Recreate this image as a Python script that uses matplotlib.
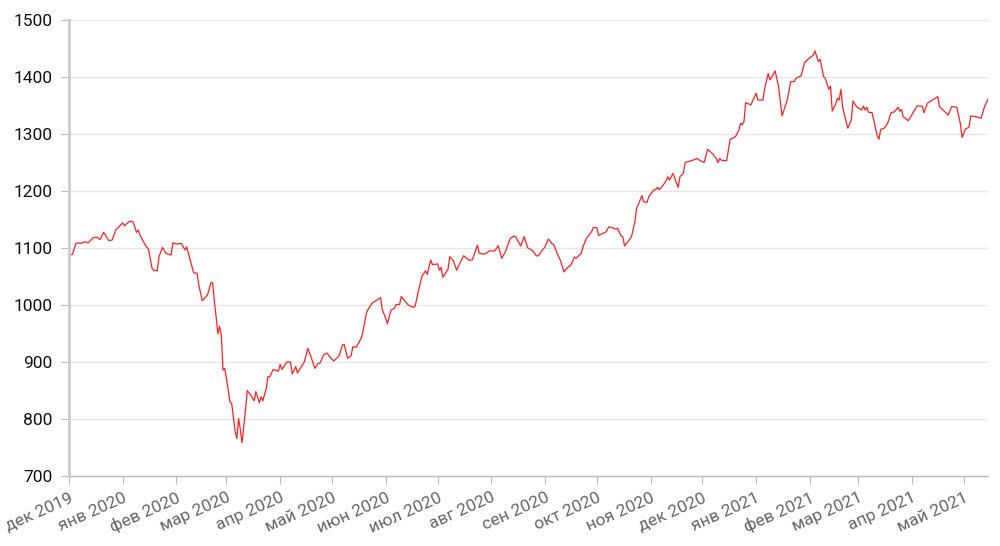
import matplotlib
matplotlib.use("Agg")
import matplotlib.pyplot as plt
import matplotlib.dates as mdates
import pandas as pd

# values
dates = [
    "2019-12-01", "2019-12-03", "2019-12-05", "2019-12-06", "2019-12-08", "2019-12-10",
    "2019-12-12", "2019-12-15", "2019-12-17", "2019-12-19", "2019-12-21", "2019-12-24",
    "2019-12-26", "2019-12-28", "2020-01-01", "2020-01-02", "2020-01-05", "2020-01-07",
    "2020-01-09", "2020-01-10", "2020-01-11", "2020-01-13", "2020-01-15", "2020-01-16",
    "2020-01-18", "2020-01-19", "2020-01-21", "2020-01-22", "2020-01-24", "2020-01-26",
    "2020-01-29", "2020-01-30", "2020-02-01", "2020-02-04", "2020-02-06", "2020-02-07",
    "2020-02-09", "2020-02-11", "2020-02-13", "2020-02-14", "2020-02-16", "2020-02-19",
    "2020-02-21", "2020-02-22", "2020-02-23", "2020-02-24", "2020-02-25", "2020-02-26",
    "2020-02-27", "2020-02-28", "2020-02-29", "2020-03-02", "2020-03-03", "2020-03-04",
    "2020-03-06", "2020-03-07", "2020-03-08", "2020-03-09", "2020-03-10", "2020-03-12",
    "2020-03-13", "2020-03-15", "2020-03-17", "2020-03-18", "2020-03-20", "2020-03-21",
    "2020-03-22", "2020-03-24", "2020-03-25", "2020-03-26", "2020-03-28", "2020-03-31",
    "2020-04-01", "2020-04-02", "2020-04-05", "2020-04-07", "2020-04-08", "2020-04-10",
    "2020-04-11", "2020-04-15", "2020-04-17", "2020-04-19", "2020-04-21", "2020-04-23",
    "2020-04-24", "2020-04-26", "2020-04-28", "2020-04-30", "2020-05-02", "2020-05-05",
    "2020-05-07", "2020-05-08", "2020-05-10", "2020-05-12", "2020-05-13", "2020-05-15",
    "2020-05-18", "2020-05-19", "2020-05-21", "2020-05-24", "2020-05-26", "2020-05-29",
    "2020-05-30", "2020-06-01", "2020-06-02", "2020-06-04", "2020-06-06", "2020-06-07",
    "2020-06-09", "2020-06-10", "2020-06-14", "2020-06-17", "2020-06-18", "2020-06-20",
    "2020-06-22", "2020-06-24", "2020-06-25", "2020-06-27", "2020-06-28", "2020-07-01",
    "2020-07-02", "2020-07-03", "2020-07-04", "2020-07-06", "2020-07-07", "2020-07-08",
    "2020-07-10", "2020-07-12", "2020-07-13", "2020-07-16", "2020-07-19", "2020-07-21",
    "2020-07-24", "2020-07-25", "2020-07-28", "2020-07-31", "2020-08-03", "2020-08-05",
    "2020-08-07", "2020-08-09", "2020-08-12", "2020-08-14", "2020-08-15", "2020-08-18",
    "2020-08-20", "2020-08-22", "2020-08-25", "2020-08-27", "2020-08-28", "2020-09-01",
    "2020-09-03", "2020-09-05", "2020-09-06", "2020-09-08", "2020-09-10", "2020-09-12",
    "2020-09-14", "2020-09-16", "2020-09-18", "2020-09-19", "2020-09-22", "2020-09-23",
    "2020-09-25", "2020-09-28", "2020-09-29", "2020-10-01", "2020-10-02", "2020-10-04",
    "2020-10-06", "2020-10-08", "2020-10-10", "2020-10-12", "2020-10-13", "2020-10-15",
    "2020-10-16", "2020-10-17", "2020-10-19", "2020-10-21", "2020-10-23", "2020-10-24",
    "2020-10-26", "2020-10-27", "2020-10-28", "2020-10-30", "2020-10-31", "2020-11-03",
    "2020-11-04", "2020-11-05", "2020-11-06", "2020-11-08", "2020-11-10", "2020-11-11",
    "2020-11-12", "2020-11-14", "2020-11-15", "2020-11-17", "2020-11-18", "2020-11-20",
    "2020-11-21", "2020-11-24", "2020-11-27", "2020-11-28", "2020-11-30", "2020-12-02",
    "2020-12-04", "2020-12-07", "2020-12-09", "2020-12-10", "2020-12-11", "2020-12-12",
    "2020-12-15", "2020-12-17", "2020-12-20", "2020-12-22", "2020-12-23", "2020-12-24",
    "2020-12-25", "2020-12-26", "2020-12-29", "2021-01-01", "2021-01-02", "2021-01-05",
    "2021-01-06", "2021-01-08", "2021-01-09", "2021-01-12", "2021-01-14", "2021-01-16",
    "2021-01-19", "2021-01-21", "2021-01-23", "2021-01-24", "2021-01-27", "2021-01-29",
    "2021-01-31", "2021-02-03", "2021-02-04", "2021-02-06", "2021-02-07", "2021-02-09",
    "2021-02-10", "2021-02-12", "2021-02-13", "2021-02-14", "2021-02-16", "2021-02-17",
    "2021-02-18", "2021-02-19", "2021-02-20", "2021-02-23", "2021-02-25", "2021-02-26",
    "2021-02-28", "2021-03-03", "2021-03-04", "2021-03-05", "2021-03-06", "2021-03-07",
    "2021-03-09", "2021-03-10", "2021-03-12", "2021-03-13", "2021-03-14", "2021-03-16",
    "2021-03-18", "2021-03-20", "2021-03-22", "2021-03-24", "2021-03-25", "2021-03-26",
    "2021-03-27", "2021-03-30", "2021-04-02", "2021-04-04", "2021-04-07", "2021-04-08",
    "2021-04-10", "2021-04-13", "2021-04-16", "2021-04-17", "2021-04-19", "2021-04-22",
    "2021-04-24", "2021-04-27", "2021-04-29", "2021-04-30", "2021-05-02", "2021-05-04",
    "2021-05-05", "2021-05-08", "2021-05-11", "2021-05-13", "2021-05-15",
]
values = [
    1088, 1089, 1108, 1109, 1108, 1111,
    1109, 1118, 1119, 1115, 1127.5, 1113,
    1114, 1131.6, 1144, 1139, 1147, 1146,
    1127.5, 1131.6, 1122.8, 1111, 1101, 1097.7,
    1064, 1061, 1060, 1084.7, 1101, 1090.7,
    1087.7, 1109, 1107, 1108, 1096.5, 1102,
    1079, 1056.7, 1055.6, 1035, 1007.6, 1017.5,
    1039, 1039, 1006, 979.5, 950, 963,
    947, 886, 889, 851, 830, 827.5,
    778, 766, 801, 781, 758.5, 816,
    850, 842, 832, 848, 828.6, 839,
    832, 853.8, 875, 874, 887, 884,
    896, 887, 900.5, 900, 879, 892,
    881, 900.5, 924, 908, 889, 898,
    898, 912, 916, 908, 902, 910.5,
    930, 931, 906.5, 911, 927, 926,
    943, 956, 988, 1003, 1007, 1013,
    992, 977, 967, 991, 994, 1001,
    1001, 1015, 1000, 996, 998, 1026,
    1051, 1060, 1054, 1079, 1071, 1072,
    1061, 1066, 1049, 1058, 1063, 1085,
    1078, 1061, 1068, 1086.5, 1079, 1079,
    1105, 1091, 1089, 1095, 1095, 1104,
    1082, 1092.5, 1117, 1121, 1120, 1103.5,
    1120, 1100.5, 1095, 1086.5, 1086, 1102,
    1116, 1108, 1106.5, 1091, 1078, 1058,
    1065.5, 1070, 1084, 1082, 1091, 1102,
    1117, 1129, 1136, 1135.6, 1122, 1125,
    1127.5, 1137, 1135.6, 1133, 1134.5, 1121,
    1120, 1103.5, 1111, 1120, 1146, 1170,
    1184, 1192, 1181, 1180, 1190, 1202,
    1203, 1206.5, 1202, 1209, 1218, 1225,
    1219, 1231, 1222, 1206.5, 1225, 1231,
    1250, 1252.6, 1255.6, 1257, 1252.6, 1250,
    1273, 1265, 1257, 1249.6, 1257, 1254,
    1253, 1290.7, 1295, 1306, 1318.7, 1316,
    1321.6, 1355, 1351, 1371.4, 1359.6, 1359.6,
    1380, 1406, 1394.7, 1410.5, 1383, 1331.6,
    1359.6, 1391.8, 1391.8, 1397.7, 1401.8, 1425,
    1431, 1438, 1445.6, 1427, 1431, 1400.5,
    1397.7, 1378.4, 1384, 1340, 1352.6, 1362.6,
    1359.6, 1378.4, 1346.8, 1310, 1324.6, 1357.9,
    1348, 1342, 1349, 1342, 1346.8, 1338,
    1337.3, 1324.6, 1296.5, 1290.7, 1308, 1310,
    1318.6, 1337.3, 1339, 1346.8, 1340, 1343,
    1330.4, 1323.3, 1339, 1349, 1349, 1337.3,
    1353.9, 1359.6, 1365.4, 1348, 1342, 1333.3,
    1348, 1346.8, 1318.6, 1294, 1308.8, 1311.7,
    1331.6, 1330.4, 1327.5, 1348, 1361,
]

month_names = ["янв", "фев", "мар", "апр", "май", "июн",
               "июл", "авг", "сен", "окт", "ноя", "дек"]
y_ticks = [700, 800, 900, 1000, 1100, 1200, 1300, 1400, 1500]

x = pd.to_datetime(dates)

plt.rcParams["font.family"] = ["Roboto", "DejaVu Sans"]

fig = plt.figure(figsize=(10, 5.46), dpi=100)
ax = fig.add_axes([0.069, 0.128, 0.919, 0.8355])

ax.plot(x, values, color="#ff2020", linewidth=0.9)

ax.set_ylim(700, 1500)
ax.set_yticks(y_ticks)
ax.set_xlim(x[0], x[-1])

ax.xaxis.set_major_locator(mdates.MonthLocator())
ax.xaxis.set_major_formatter(
    plt.FuncFormatter(lambda v, pos: f"{month_names[mdates.num2date(v).month - 1]} {mdates.num2date(v).year}")
)

ax.grid(axis="y", color="#e6e6e6", linewidth=1)
ax.set_axisbelow(True)
for side in ["top", "right"]:
    ax.spines[side].set_visible(False)
ax.spines["left"].set_color("#cccccc")
ax.spines["left"].set_linewidth(2)
ax.spines["bottom"].set_color("#bbbbbb")
ax.spines["bottom"].set_linewidth(1)

ax.tick_params(axis="y", length=6, color="#bbbbbb", labelsize=12.5, labelcolor="#111111", pad=6)
ax.tick_params(axis="x", length=6, color="#bbbbbb", labelsize=12.5, labelcolor="#666666", pad=4)
for lbl in ax.get_xticklabels():
    lbl.set_rotation(24)
    lbl.set_ha("right")
    lbl.set_rotation_mode("anchor")

fig.savefig("out.png", dpi=100)
